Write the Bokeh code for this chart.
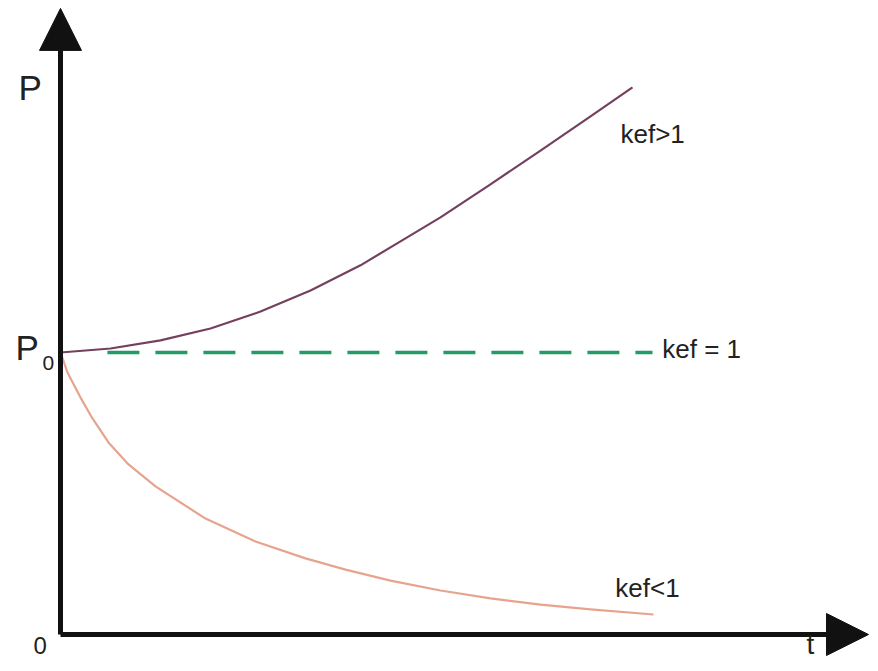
from bokeh.plotting import figure
from bokeh.models import Range1d, Arrow, NormalHead, Label
from bokeh.embed import file_html
from bokeh.resources import INLINE

# data (t in arbitrary units, P relative to P0 = 1)
t_up = [0, 0.874, 1.748, 2.622, 3.497, 4.371, 5.245, 5.944, 6.643, 7.517, 8.392, 9.266, 10.0]
p_up = [1.0, 1.014, 1.043, 1.085, 1.145, 1.220, 1.309, 1.394, 1.479, 1.596, 1.716, 1.837, 1.940]

t_low = [0, 0.122, 0.350, 0.559, 0.839, 1.189, 1.661, 2.535, 3.409, 4.283, 4.983,
         5.769, 6.643, 7.517, 8.392, 9.266, 10.367]
p_low = [1.0, 0.929, 0.840, 0.766, 0.681, 0.603, 0.525, 0.411, 0.330, 0.270, 0.230,
         0.191, 0.156, 0.128, 0.106, 0.089, 0.071]

t_eq = [0.82, 10.35]
p_eq = [1.0, 1.0]

x_tip = 14.126
y_tip = 2.22

FONT = "Liberation Sans"

p = figure(width=870, height=663, output_backend="svg", toolbar_location=None,
           x_range=Range1d(-1.049, 14.161), y_range=Range1d(-0.1028, 2.248),
           min_border=0, outline_line_color=None)
p.axis.visible = False
p.grid.visible = False

# axes with arrowheads
p.add_layout(Arrow(x_start=0, y_start=0, x_end=0, y_end=y_tip, line_width=5, line_color="#111111",
                   end=NormalHead(size=42, fill_color="#111111", line_color="#111111")))
p.add_layout(Arrow(x_start=0, y_start=0, x_end=x_tip, y_end=0, line_width=5, line_color="#111111",
                   end=NormalHead(size=42, fill_color="#111111", line_color="#111111")))

p.line(t_up, p_up, line_color="#74405e", line_width=2.2, line_join="round")
p.line(t_low, p_low, line_color="#e6a48e", line_width=2.2, line_join="round")
p.line(t_eq, p_eq, line_color="#239b65", line_width=3.5, line_dash="32 16")

def lab(x, y, s, size, color="#222222"):
    p.add_layout(Label(x=x, y=y, text=s, text_font=FONT, text_font_size=f"{size}px",
                       text_color=color, text_baseline="alphabetic", text_align="left"))

lab(-0.734, 1.940, "P", 35)
lab(-0.787, 1.018, "P", 35)
lab(-0.315, 0.964, "0", 21)
lab(-0.472, -0.039, "0", 24)
lab(13.04, -0.034, "t", 28)
lab(9.79, 1.774, "kef>1", 26)
lab(10.52, 1.0115, "kef = 1", 26)
lab(9.70, 0.164, "kef<1", 26)

open("out.html", "w").write(file_html(p, INLINE))
